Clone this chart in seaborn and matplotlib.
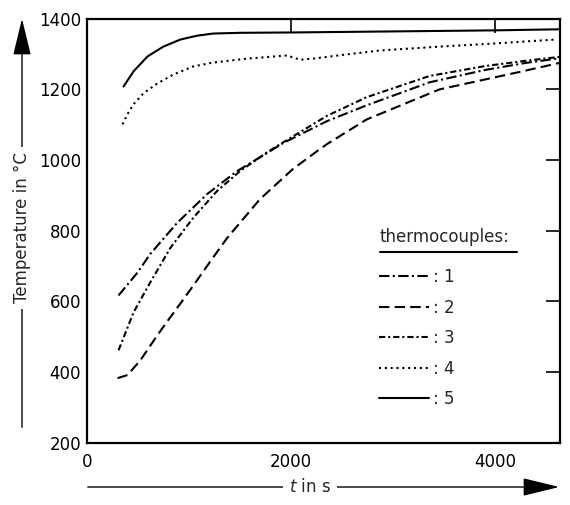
import matplotlib
matplotlib.use("Agg")
import matplotlib.pyplot as plt
import numpy as np
import pandas as pd
import seaborn as sns

# thermocouple readings
t1 = [312, 498, 624, 888, 1180, 1473, 1766, 1922, 2351, 2741, 3356, 3900, 4300, 4630]
T1 = [617, 682, 735, 823, 904, 969, 1020, 1048, 1110, 1155, 1220, 1255, 1275, 1288]

t2 = [302, 400, 527, 693, 800, 917, 1044, 1239, 1376, 1698, 2020, 2254, 2351, 2741, 3454, 4263, 4630]
T2 = [383, 392, 434, 505, 548, 594, 645, 725, 780, 890, 975, 1025, 1045, 1115, 1200, 1251, 1275]

t3 = [312, 459, 605, 820, 1044, 1278, 1502, 1766, 1922, 2351, 2741, 3356, 3900, 4300, 4630]
T3 = [462, 569, 645, 752, 837, 913, 969, 1022, 1050, 1125, 1178, 1238, 1266, 1281, 1292]

t4 = [351, 400, 459, 556, 693, 849, 1044, 1239, 1571, 1961, 2088, 2215, 2546, 2868, 3454, 4000, 4585]
T4 = [1101, 1130, 1158, 1189, 1217, 1242, 1265, 1276, 1287, 1296, 1284, 1287, 1299, 1310, 1321, 1330, 1341]

t5 = [361, 459, 595, 751, 917, 1083, 1239, 1500, 2000, 3000, 4000, 4630]
T5 = [1208, 1251, 1293, 1321, 1341, 1352, 1358, 1360, 1361, 1364, 1367, 1370]

names = ["1", "2", "3", "4", "5"]
x_ticks = [0, 2000, 4000]
y_ticks = [200, 400, 600, 800, 1000, 1200, 1400]

frames = []
for name, t, T in zip(names, [t1, t2, t3, t4, t5], [T1, T2, T3, T4, T5]):
    frames.append(pd.DataFrame({"t": t, "T": T, "tc": name}))
df = pd.concat(frames, ignore_index=True)

sns.set_style("white")
plt.rcParams["font.family"] = ["DejaVu Sans"]
plt.rcParams["font.size"] = 12

fig = plt.figure(figsize=(5.7, 5.05), dpi=100)
ax = fig.add_axes([0.152, 0.123, 0.83, 0.84])

dashes = {"1": (5, 1.6, 1, 1.6), "2": (5, 2.5), "3": (3, 1.4, 1, 1.4), "4": (1, 1.8), "5": ""}
sns.lineplot(data=df, x="t", y="T", style="tc", dashes=dashes, color="black",
             linewidth=1.5, legend=False, ax=ax, sort=False, estimator=None)

ax.set_xlim(0, 4630)
ax.set_ylim(200, 1400)
ax.set_xticks(x_ticks)
ax.set_yticks(y_ticks)
ax.set_xlabel("")
ax.set_ylabel("")
for s in ax.spines.values():
    s.set_linewidth(1.6)
    s.set_color("black")
    s.set_visible(True)
ax.tick_params(direction="in", length=10, width=1.2, top=True, right=True,
               labelsize=12, colors="black")
ax.tick_params(axis="y", pad=4)
ax.tick_params(axis="x", pad=7)

# legend with an underlined title
ax.text(0.62, 0.485, "thermocouples:", transform=ax.transAxes, fontsize=12,
        ha="left", va="center")
ax.plot([0.62, 0.91], [0.45, 0.45], transform=ax.transAxes, color="black", lw=1.5)
ax.legend(ax.lines[:5], [": " + n for n in names], loc="upper left",
          bbox_to_anchor=(0.587, 0.447), frameon=False, handlelength=3.0,
          handletextpad=0.2, labelspacing=0.75, fontsize=12)

# axis labels drawn over long arrows
arrow = dict(arrowstyle="-|>,head_length=1.15,head_width=0.28", color="black",
             lw=1.0, mutation_scale=20)
fig.add_artist(matplotlib.patches.FancyArrowPatch((85, 18), (562, 18), transform=None, **arrow))
fig.add_artist(matplotlib.patches.FancyArrowPatch((22, 75), (22, 489), transform=None, **arrow))
fig.text(310 / 570, 18 / 505, r"$t$ in s", ha="center", va="center", fontsize=12,
         bbox=dict(facecolor="white", edgecolor="none", pad=4))
fig.text(22 / 570, 277 / 505, "Temperature in °C", ha="center", va="center",
         rotation=90, fontsize=12, bbox=dict(facecolor="white", edgecolor="none", pad=4))

fig.savefig("out.png", dpi=100)
